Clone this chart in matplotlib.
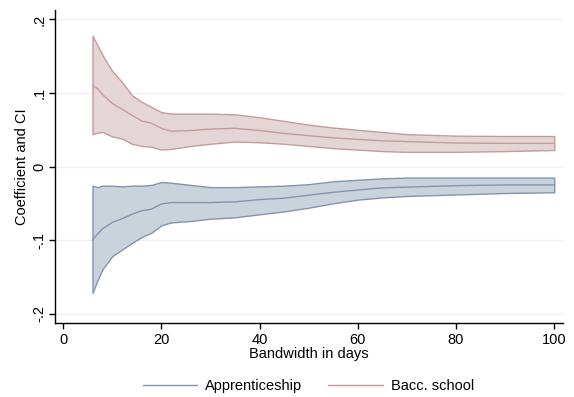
import matplotlib
matplotlib.use("Agg")
import matplotlib.pyplot as plt
from matplotlib.lines import Line2D

plt.rcParams['font.family'] = ['Liberation Sans', 'DejaVu Sans']

bandwidth = [6, 7, 8, 10, 12, 14, 16, 18, 20, 22, 26, 30, 35, 40, 45, 50, 55, 60, 65, 70, 75, 80, 90, 100]

bacc_hi = [0.178, 0.165, 0.152, 0.130, 0.115, 0.097, 0.088, 0.081, 0.074, 0.072, 0.072, 0.072, 0.071, 0.067,
           0.062, 0.057, 0.053, 0.050, 0.047, 0.044, 0.043, 0.042, 0.0415, 0.0415]
bacc_coef = [0.110, 0.106, 0.098, 0.086, 0.078, 0.070, 0.062, 0.059, 0.052, 0.048, 0.049, 0.051, 0.052, 0.049,
             0.045, 0.042, 0.039, 0.037, 0.035, 0.034, 0.033, 0.032, 0.0315, 0.0315]
bacc_lo = [0.044, 0.046, 0.047, 0.041, 0.038, 0.031, 0.028, 0.027, 0.023, 0.024, 0.028, 0.031, 0.034, 0.033,
           0.031, 0.028, 0.025, 0.023, 0.021, 0.020, 0.020, 0.020, 0.021, 0.0225]

app_hi = [-0.026, -0.028, -0.026, -0.026, -0.027, -0.026, -0.026, -0.025, -0.021, -0.022, -0.025, -0.028, -0.028,
          -0.027, -0.026, -0.024, -0.020, -0.018, -0.016, -0.015, -0.015, -0.015, -0.015, -0.015]
app_coef = [-0.100, -0.092, -0.085, -0.076, -0.071, -0.065, -0.060, -0.058, -0.051, -0.049, -0.049, -0.049, -0.048,
            -0.045, -0.043, -0.039, -0.035, -0.032, -0.029, -0.028, -0.027, -0.026, -0.025, -0.025]
app_lo = [-0.172, -0.155, -0.140, -0.122, -0.113, -0.104, -0.096, -0.090, -0.080, -0.076, -0.074, -0.071, -0.069,
          -0.065, -0.061, -0.056, -0.050, -0.045, -0.042, -0.040, -0.039, -0.038, -0.036, -0.035]

xticks = [0, 20, 40, 60, 80, 100]
yticks = [-0.2, -0.1, 0, 0.1, 0.2]
ytick_labels = ['-.2', '-.1', '0', '.1', '.2']
series_labels = ['Apprenticeship', 'Bacc. school']

blue_line = '#8395ad'
blue_fill = '#cad2dc'
red_line = '#c49c9c'
red_fill = '#e4d6d6'

FS = 10.5

fig = plt.figure(figsize=(5.74, 3.97), dpi=100)
ax = fig.add_axes([0.095, 0.186, 0.886, 0.789])

ax.fill_between(bandwidth, app_lo, app_hi, facecolor=blue_fill, edgecolor=blue_line, linewidth=1.0, zorder=2)
ax.plot(bandwidth, app_coef, color=blue_line, linewidth=1.0, zorder=3)
ax.fill_between(bandwidth, bacc_lo, bacc_hi, facecolor=red_fill, edgecolor=red_line, linewidth=1.0, zorder=2)
ax.plot(bandwidth, bacc_coef, color=red_line, linewidth=1.0, zorder=3)

ax.set_xlim(-1.73, 101.8)
ax.set_ylim(-0.213, 0.213)
ax.set_xticks(xticks)
ax.set_xticklabels([str(t) for t in xticks])
ax.set_yticks(yticks)
ax.set_yticklabels(ytick_labels, rotation=90, va='center')
ax.grid(axis='y', color='#eaf1f2', linewidth=1.0, zorder=0)
ax.set_axisbelow(True)

for s in ['top', 'right']:
    ax.spines[s].set_visible(False)
for s in ['left', 'bottom']:
    ax.spines[s].set_linewidth(1.0)
    ax.spines[s].set_color('black')

ax.tick_params(axis='both', direction='out', length=4, width=1, labelsize=FS, pad=3)
ax.tick_params(axis='y', pad=2)
ax.set_xlabel('Bandwidth in days', fontsize=FS, labelpad=0)
ax.set_ylabel('Coefficient and CI', fontsize=FS, labelpad=2)

handles = [Line2D([0], [0], color=blue_line, linewidth=1.0),
           Line2D([0], [0], color=red_line, linewidth=1.0)]
fig.legend(handles, series_labels, loc='center', bbox_to_anchor=(0.537, 0.028), ncol=2, frameon=False,
           fontsize=FS, handlelength=3.75, columnspacing=1.75, handletextpad=0.55)

fig.savefig('out.png', dpi=100, facecolor='white')
